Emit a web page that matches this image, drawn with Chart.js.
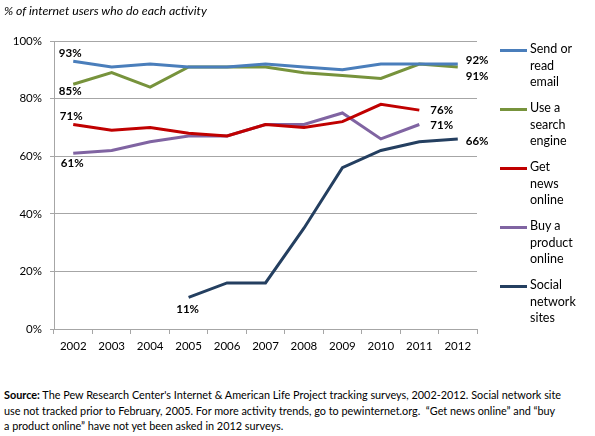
<!DOCTYPE html>
<html>
<head>
<meta charset="utf-8">
<script src="https://cdn.jsdelivr.net/npm/chart.js@4/dist/chart.umd.min.js"></script>
<style>
  body { margin: 0; background: #fff; font-family: Lato, "Open Sans", sans-serif; }
  #page { position: relative; width: 595px; height: 436px; overflow: hidden; }
  #title { position: absolute; left: 4px; top: 3px; font-size: 12.3px; font-style: italic; color: #000; }
  #chartBox { position: absolute; left: 0; top: 0; width: 595px; height: 380px; }
  #legend { position: absolute; left: 500px; top: 0; width: 95px; }
  .item { position: absolute; left: 0; }
  .item .swatch { position: absolute; left: 0; width: 27px; height: 3px; }
  .item .txt { position: absolute; left: 30px; width: 70px; font-size: 12.5px; line-height: 16.5px; color: #000; }
  #note { position: absolute; left: 4px; top: 387px; width: 590px; font-size: 10.85px; line-height: 15.7px; color: #000; white-space: nowrap; }
</style>
</head>
<body>
<div id="page">
  <div id="chartBox"><canvas id="usageChart"></canvas></div>
  <div id="title">% of internet users who do each activity</div>
  <div id="legend"></div>
  <div id="note"><b>Source:</b> The Pew Research Center's Internet &amp; American Life Project tracking surveys, 2002-2012. Social network site<br>use not tracked prior to February, 2005. For more activity trends, go to pewinternet.org.&nbsp; “Get news online” and “buy<br>a product online” have not yet been asked in 2012 surveys.</div>
</div>
<script>
// survey years and share of internet users (%) per activity
const years = ['2002', '2003', '2004', '2005', '2006', '2007', '2008', '2009', '2010', '2011', '2012'];
const emailValues = [93, 91, 92, 91, 91, 92, 91, 90, 92, 92, 92];
const searchValues = [85, 89, 84, 91, 91, 91, 89, 88, 87, 92, 91];
const newsValues = [71, 69, 70, 68, 67, 71, 70, 72, 78, 76, null];
const buyValues = [61, 62, 65, 67, 67, 71, 71, 75, 66, 71, null];
const socialValues = [null, null, null, 11, 16, 16, 35, 56, 62, 65, 66];
const yTicks = [0, 20, 40, 60, 80, 100];

const seriesNames = ['Send or read email', 'Use a search engine', 'Get news online', 'Buy a product online', 'Social network sites'];
const legendLines = [['Send or', 'read', 'email'], ['Use a', 'search', 'engine'], ['Get', 'news', 'online'], ['Buy a', 'product', 'online'], ['Social', 'network', 'sites']];
const colors = ['#4a7ebb', '#77933c', '#c00000', '#8064a2', '#243f60'];
const allValues = [emailValues, searchValues, newsValues, buyValues, socialValues];

// which points get a bold value label, and where it sits relative to the point
const callouts = [
    { ds: 0, i: 0, dx: -3, dy: -8, align: 'center' },
    { ds: 1, i: 0, dx: -3, dy: 7, align: 'center' },
    { ds: 2, i: 0, dx: -2, dy: -8, align: 'center' },
    { ds: 3, i: 0, dx: -1, dy: 10, align: 'center' },
    { ds: 4, i: 3, dx: -1, dy: 12, align: 'center' },
    { ds: 0, i: 10, dx: 8, dy: -4, align: 'left' },
    { ds: 1, i: 10, dx: 8, dy: 9, align: 'left' },
    { ds: 2, i: 9, dx: 11, dy: 0, align: 'left' },
    { ds: 3, i: 9, dx: 11, dy: 1, align: 'left' },
    { ds: 4, i: 10, dx: 8, dy: 2, align: 'left' }
];

const calloutPlugin = {
    id: 'callouts',
    afterDatasetsDraw(chart) {
        const ctx = chart.ctx;
        ctx.save();
        ctx.font = 'bold 11.5px Lato, "Open Sans", sans-serif';
        ctx.fillStyle = '#000';
        ctx.textBaseline = 'middle';
        callouts.forEach(c => {
            const pt = chart.getDatasetMeta(c.ds).data[c.i];
            const v = chart.data.datasets[c.ds].data[c.i];
            ctx.textAlign = c.align;
            ctx.fillText(v + '%', pt.x + c.dx, pt.y + c.dy);
        });
        ctx.restore();
    }
};

const grey = '#a6a6a6';

new Chart(document.getElementById('usageChart'), {
    type: 'line',
    data: {
        labels: years,
        datasets: allValues.map((vals, k) => ({
            label: seriesNames[k],
            data: vals,
            borderColor: colors[k],
            backgroundColor: colors[k],
            borderWidth: 3,
            pointRadius: 0,
            tension: 0,
            fill: false
        }))
    },
    options: {
        responsive: true,
        maintainAspectRatio: false,
        animation: false,
        layout: { padding: { top: 41, right: 118, left: 0, bottom: 0 } },
        plugins: {
            legend: { display: false },
            tooltip: { enabled: false }
        },
        scales: {
            x: {
                offset: true,
                afterFit: s => { s.height = 51; },
                border: { color: grey, width: 1 },
                grid: { offset: true, drawOnChartArea: false, drawTicks: true, tickLength: 5, color: grey },
                ticks: { color: '#000', padding: 5, font: { family: 'Lato', size: 11.5 }, maxRotation: 0 }
            },
            y: {
                min: 0,
                max: 100,
                afterFit: s => { s.width = 54; },
                afterBuildTicks: s => { s.ticks = yTicks.map(v => ({ value: v })); },
                border: { color: grey, width: 1 },
                grid: { color: grey, lineWidth: 1, tickLength: 4 },
                ticks: { color: '#000', padding: 8, font: { family: 'Lato', size: 11.5 }, callback: v => v + '%' }
            }
        }
    },
    plugins: [calloutPlugin]
});

// legend built as html so each name can wrap onto three short lines
const legendTops = [50, 109, 168, 227, 286];
const legend = document.getElementById('legend');
legendLines.forEach((lines, k) => {
    const item = document.createElement('div');
    item.className = 'item';
    item.style.top = legendTops[k] + 'px';
    item.innerHTML = `<div class="swatch" style="background:${colors[k]};top:-1px"></div>
        <div class="txt" style="top:-9px">${lines.join('<br>')}</div>`;
    legend.appendChild(item);
});
</script>
</body>
</html>
